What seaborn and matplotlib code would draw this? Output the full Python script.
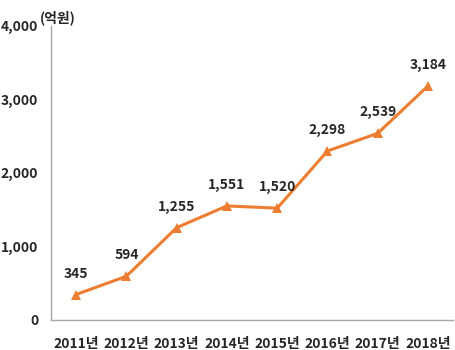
import matplotlib
matplotlib.use("Agg")
import matplotlib.pyplot as plt
import seaborn as sns
import pandas as pd

years = ["2011년", "2012년", "2013년", "2014년", "2015년", "2016년", "2017년", "2018년"]
amounts = [345, 594, 1255, 1551, 1520, 2298, 2539, 3184]
yticks = [0, 1000, 2000, 3000, 4000]

sns.set_theme(style="white")
plt.rcParams["font.family"] = ["Noto Sans CJK KR", "DejaVu Sans"]

df = pd.DataFrame({"year": years, "amount": amounts})

fig = plt.figure(figsize=(4.55, 3.5), dpi=100)
ax = fig.add_axes([0.112, 0.086, 0.884, 0.840])

sns.lineplot(data=df, x="year", y="amount", ax=ax, color="#ED7D31",
             linewidth=2.2, marker="^", markersize=7.5, markeredgewidth=0, sort=False)

ax.set_xlim(-0.5, len(years) - 0.5)
ax.set_ylim(0, 4000)
ax.set_yticks(yticks)
ax.set_yticklabels([f"{v:,}" for v in yticks], fontsize=10, fontweight="bold")
ax.set_xticks(range(len(years)))
ax.set_xticklabels(years, fontsize=10, fontweight="bold")
ax.set_xlabel("")
ax.set_ylabel("")

# category boundaries as tick marks on the x axis
ax.set_xticks([i - 0.5 for i in range(len(years) + 1)], minor=True)
ax.tick_params(axis="x", which="major", length=0, pad=12)
ax.tick_params(axis="x", which="minor", length=5, color="#A6A6A6", width=1)
ax.tick_params(axis="y", length=5, color="#A6A6A6", width=1, pad=4)

for side in ["top", "right"]:
    ax.spines[side].set_visible(False)
for side in ["left", "bottom"]:
    ax.spines[side].set_color("#A6A6A6")
    ax.spines[side].set_linewidth(1)

for i, v in enumerate(amounts):
    ax.annotate(f"{v:,}", (i, v), xytext=(0, 10), textcoords="offset points",
                ha="center", va="bottom", fontsize=10, fontweight="bold")

fig.text(0.088, 0.95, "(억원)", ha="left", va="center", fontsize=10, fontweight="bold")

fig.savefig("out.png", dpi=100)
